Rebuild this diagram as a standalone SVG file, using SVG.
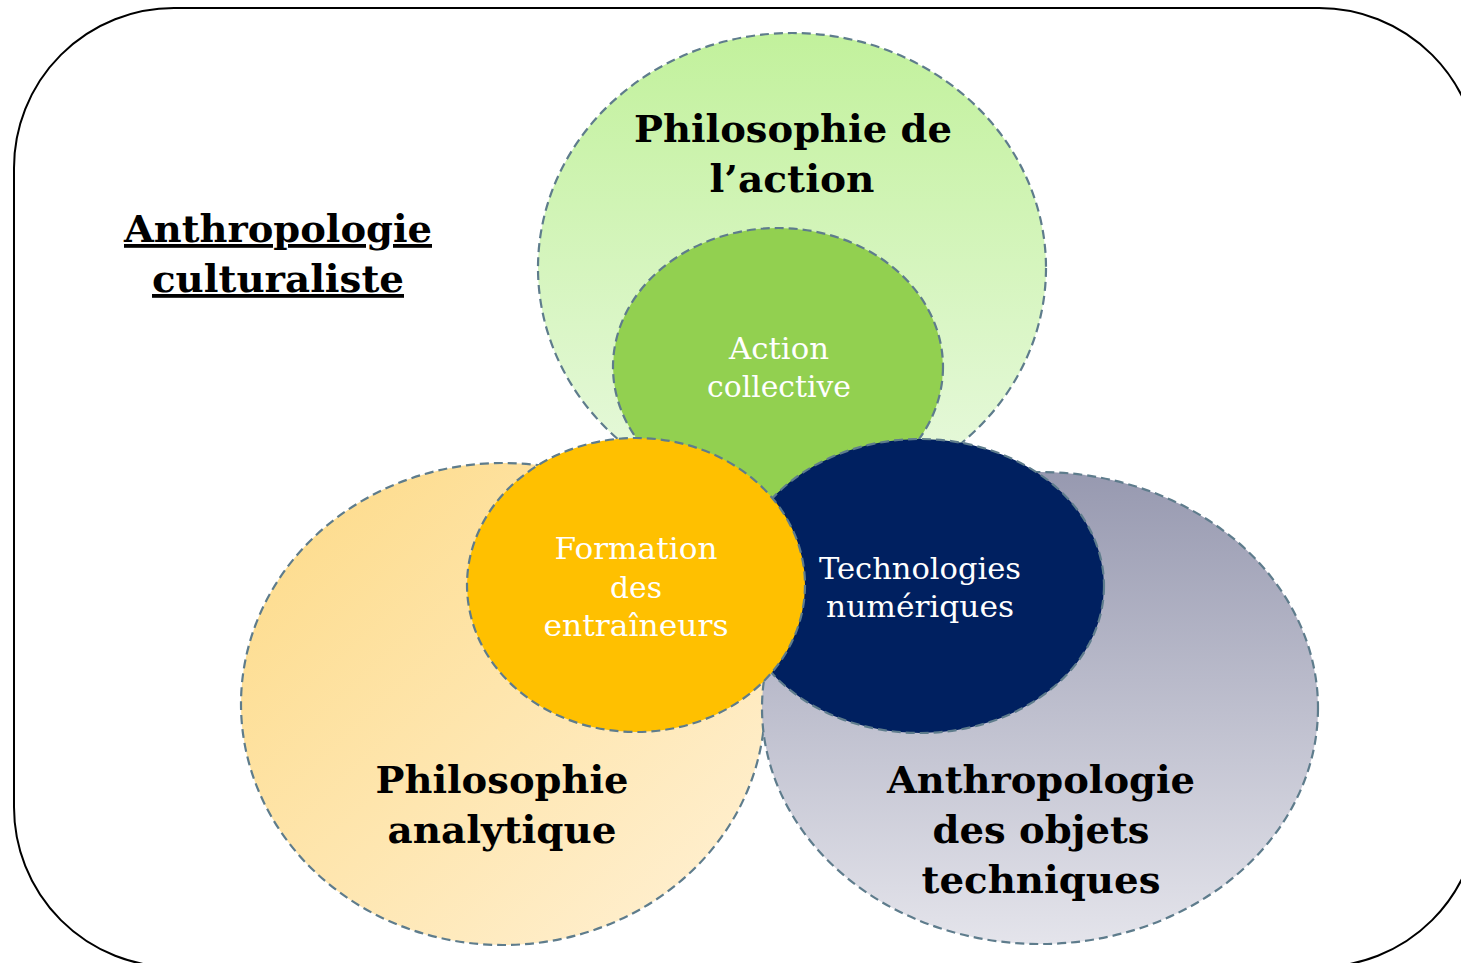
<svg xmlns="http://www.w3.org/2000/svg" width="1461" height="963" viewBox="0 0 1461 963">
<defs>
<linearGradient id="gGreen" x1="0" y1="0" x2="0" y2="1">
<stop offset="0" stop-color="#C2F19C"/>
<stop offset="1" stop-color="#E9F9E0"/>
</linearGradient>
<linearGradient id="gYellow" x1="0" y1="0" x2="1" y2="1">
<stop offset="0" stop-color="#FDDA86"/>
<stop offset="1" stop-color="#FFF1D6"/>
</linearGradient>
<linearGradient id="gGrey" x1="0" y1="0" x2="0" y2="1">
<stop offset="0" stop-color="#9799B0"/>
<stop offset="1" stop-color="#E4E4EB"/>
</linearGradient>
<style>
.c{stroke:#5E7C8C;stroke-width:2.2;stroke-dasharray:9 5}
.b{font-family:"DejaVu Serif","Liberation Serif",serif;font-weight:bold;font-size:38px;fill:#000;text-anchor:middle}
.w{font-family:"DejaVu Serif","Liberation Serif",serif;font-size:30px;fill:#fff;text-anchor:middle}
.u{text-decoration:underline}
</style>
</defs>
<rect id="frame" x="14" y="8" width="1465" height="959" rx="160" ry="160" fill="none" stroke="#000" stroke-width="2"/>
<g id="label-culturaliste">
<text class="b u" x="278" y="242" textLength="308" lengthAdjust="spacingAndGlyphs">Anthropologie</text>
<text class="b u" x="278" y="292" textLength="252" lengthAdjust="spacingAndGlyphs">culturaliste</text>
</g>
<g id="node-philo-action">
<ellipse class="c" cx="792" cy="268" rx="254" ry="235" fill="url(#gGreen)"/>
<text class="b" x="793" y="142" textLength="318" lengthAdjust="spacingAndGlyphs">Philosophie de</text>
<text class="b" x="792" y="192" textLength="165" lengthAdjust="spacingAndGlyphs">l’action</text>
</g>
<g id="node-philo-analytique">
<ellipse class="c" cx="503" cy="704" rx="262" ry="241" fill="url(#gYellow)"/>
<text class="b" x="502" y="793" textLength="253" lengthAdjust="spacingAndGlyphs">Philosophie</text>
<text class="b" x="502" y="843" textLength="229" lengthAdjust="spacingAndGlyphs">analytique</text>
</g>
<g id="node-anthro-objets">
<ellipse class="c" cx="1040" cy="708" rx="278" ry="236" fill="url(#gGrey)"/>
<text class="b" x="1041" y="793" textLength="308" lengthAdjust="spacingAndGlyphs">Anthropologie</text>
<text class="b" x="1041" y="843" textLength="217" lengthAdjust="spacingAndGlyphs">des objets</text>
<text class="b" x="1041" y="893" textLength="239" lengthAdjust="spacingAndGlyphs">techniques</text>
</g>
<g id="node-action-collective">
<ellipse class="c" cx="778" cy="367" rx="165" ry="139" fill="#92D050"/>
<text class="w" x="779" y="359" textLength="100" lengthAdjust="spacingAndGlyphs">Action</text>
<text class="w" x="779" y="397" textLength="144" lengthAdjust="spacingAndGlyphs">collective</text>
</g>
<g id="node-technologies">
<ellipse class="c" cx="920" cy="586" rx="184" ry="147" fill="#002060"/>
<text class="w" x="920" y="579" textLength="202" lengthAdjust="spacingAndGlyphs">Technologies</text>
<text class="w" x="920" y="617" textLength="188" lengthAdjust="spacingAndGlyphs">numériques</text>
</g>
<g id="node-formation">
<ellipse class="c" cx="636" cy="585" rx="169" ry="147" fill="#FFC000"/>
<text class="w" x="636" y="559" textLength="163" lengthAdjust="spacingAndGlyphs">Formation</text>
<text class="w" x="636" y="598" textLength="52" lengthAdjust="spacingAndGlyphs">des</text>
<text class="w" x="636" y="636" textLength="185" lengthAdjust="spacingAndGlyphs">entraîneurs</text>
</g>
<g id="connectors"/>
</svg>
